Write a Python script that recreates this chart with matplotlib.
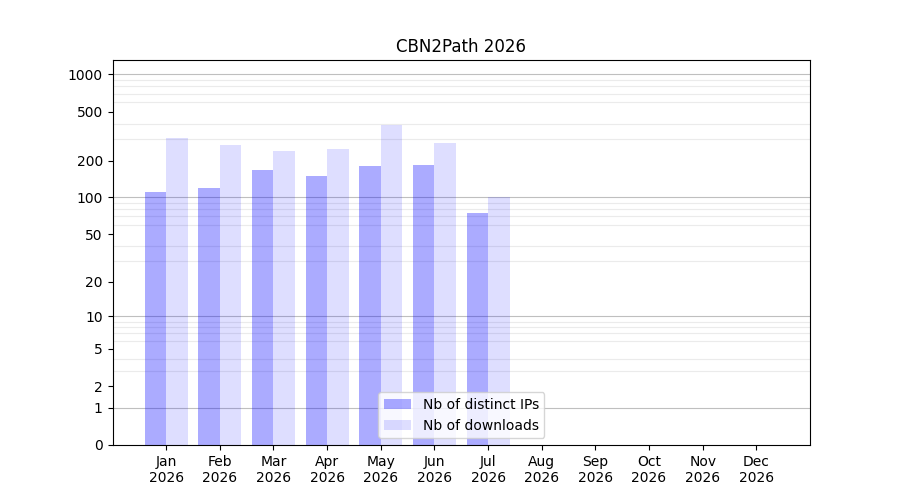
"""Monthly downloads of CBN2Path in 2026 — distinct IPs vs downloads, log(1+x) axis."""

import numpy as np
import matplotlib

matplotlib.use("Agg")
import matplotlib.pyplot as plt
from matplotlib.ticker import FixedLocator, FixedFormatter, NullFormatter

MONTHS = ["Jan", "Feb", "Mar", "Apr", "May", "Jun",
          "Jul", "Aug", "Sep", "Oct", "Nov", "Dec"]
YEAR = 2026
DISTINCT_IPS = [110, 120, 168, 150, 181, 185, 74]
DOWNLOADS = [307, 269, 240, 249, 391, 279, 100]

Y_TICKS = [0, 1, 2, 5, 10, 20, 50, 100, 200, 500, 1000]
DECADES = [1, 10, 100, 1000]
MINOR = [m * d for d in (1, 10, 100) for m in range(2, 10)]


def fwd(y):
    return np.log10(1 + np.clip(y, 0, None))


def inv(y):
    return 10 ** y - 1


def main():
    fig, ax = plt.subplots(figsize=(9, 5), dpi=100)
    x = np.arange(len(MONTHS))
    n = len(DISTINCT_IPS)
    ax.set_axisbelow(True)
    ax.bar(x[:n] - 0.2, DISTINCT_IPS, width=0.4, color="blue", alpha=0.33,
           label="Nb of distinct IPs", zorder=2)
    ax.bar(x[:n] + 0.2, DOWNLOADS, width=0.4, color="blue", alpha=0.13,
           label="Nb of downloads", zorder=2)

    ax.set_yscale("function", functions=(fwd, inv))
    ax.set_ylim(0, 1310)
    ax.yaxis.set_major_locator(FixedLocator(Y_TICKS))
    ax.yaxis.set_major_formatter(FixedFormatter([str(t) for t in Y_TICKS]))
    ax.yaxis.set_minor_locator(FixedLocator(MINOR))
    ax.yaxis.set_minor_formatter(NullFormatter())
    ax.tick_params(axis="y", which="minor", length=0)
    ax.grid(True, axis="y", which="minor", color="#ebebeb", lw=0.8, zorder=0.5)
    for d in DECADES:
        ax.axhline(d, color="#bfbfbf", lw=0.8, zorder=0.6)

    ax.set_xlim(-1, 12)
    ax.set_xticks(x)
    ax.set_xticklabels([f"{m}\n{YEAR}" for m in MONTHS])
    ax.set_title(f"CBN2Path {YEAR}")
    ax.legend(loc="lower center")

    fig.savefig("out.png", dpi=100)
    plt.close(fig)


if __name__ == "__main__":
    main()
